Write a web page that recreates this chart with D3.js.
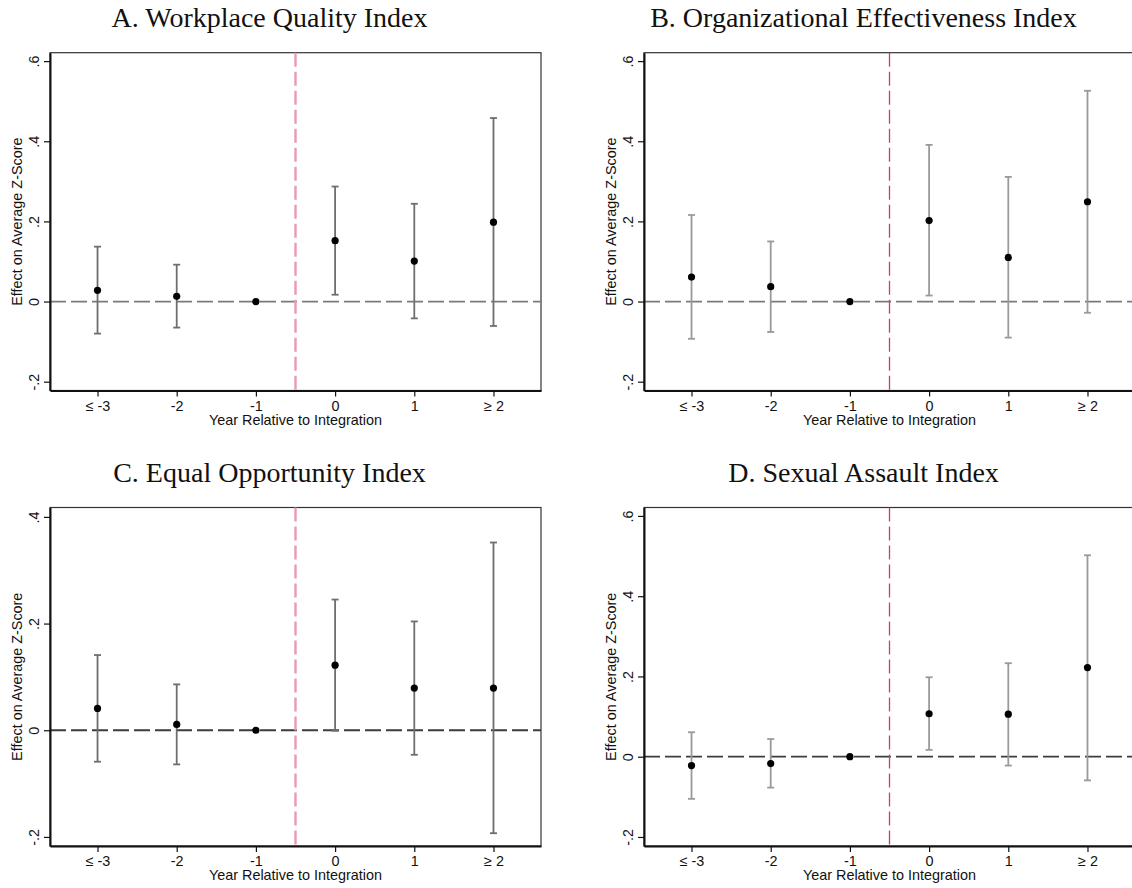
<!DOCTYPE html>
<html>
<head>
<meta charset="utf-8">
<script src="https://cdn.jsdelivr.net/npm/d3@7"></script>
<style>
  html, body { margin: 0; padding: 0; background: #fff; }
  svg { display: block; }
</style>
</head>
<body>
<svg id="chart" width="1132" height="888"></svg>
<script>
// Event-time categories (years relative to integration)
const categories = ["≤ -3", "-2", "-1", "0", "1", "≥ 2"];

// Panel titles
const panelTitles = [
  "A. Workplace Quality Index",
  "B. Organizational Effectiveness Index",
  "C. Equal Opportunity Index",
  "D. Sexual Assault Index"
];

// Point estimates and 95% confidence bounds (year -1 is the omitted reference)
const estA  = [0.028, 0.013, 0, 0.152, 0.101, 0.198];
const lowA  = [-0.080, -0.065, null, 0.017, -0.042, -0.061];
const highA = [0.137, 0.092, null, 0.287, 0.244, 0.458];

const estB  = [0.061, 0.037, 0, 0.202, 0.110, 0.249];
const lowB  = [-0.093, -0.076, null, 0.015, -0.090, -0.028];
const highB = [0.216, 0.150, null, 0.391, 0.311, 0.526];

const estC  = [0.041, 0.011, 0, 0.122, 0.079, 0.079];
const lowC  = [-0.059, -0.064, null, -0.001, -0.046, -0.193];
const highC = [0.141, 0.086, null, 0.245, 0.204, 0.352];

const estD  = [-0.022, -0.017, 0, 0.107, 0.106, 0.222];
const lowD  = [-0.105, -0.077, null, 0.017, -0.022, -0.059];
const highD = [0.061, 0.044, null, 0.198, 0.233, 0.502];

// Y-axis tick values per panel
const yTicksWide   = [-0.2, 0, 0.2, 0.4, 0.6];
const yTicksNarrow = [-0.2, 0, 0.2, 0.4];

const yTitle = "Effect on Average Z-Score";
const xTitle = "Year Relative to Integration";
const eventLine = -0.5; // boundary between year -1 and year 0

// Stata-style tick labels: ".6", "-.2", "0"
function stataFmt(v) {
  if (Math.abs(v) < 1e-9) return "0";
  return String(+v.toFixed(1)).replace("0.", ".");
}

const panels = [
  { title: panelTitles[0], est: estA, low: lowA, high: highA, ticks: yTicksWide,
    yDomain: [-0.222, 0.621], x0: 50,  x1: 541,  y0: 52.7,  y1: 390.5,
    vColor: "#e99ab0", vWidth: 2.4, barColor: "#6e6e6e", zeroColor: "#7a7a7a" },
  { title: panelTitles[1], est: estB, low: lowB, high: highB, ticks: yTicksWide,
    yDomain: [-0.222, 0.621], x0: 644, x1: 1135, y0: 52.7,  y1: 390.5,
    vColor: "#d23c64", vWidth: 1.3, barColor: "#9a9a9a", zeroColor: "#7a7a7a" },
  { title: panelTitles[2], est: estC, low: lowC, high: highC, ticks: yTicksNarrow,
    yDomain: [-0.217, 0.4176], x0: 50,  x1: 541,  y0: 507.5, y1: 846,
    vColor: "#e99ab0", vWidth: 2.4, barColor: "#6e6e6e", zeroColor: "#3c3c3c" },
  { title: panelTitles[3], est: estD, low: lowD, high: highD, ticks: yTicksWide,
    yDomain: [-0.2225, 0.621], x0: 644, x1: 1135, y0: 507.5, y1: 846,
    vColor: "#d23c64", vWidth: 1.3, barColor: "#9a9a9a", zeroColor: "#3c3c3c" }
];

const svg = d3.select("#chart");
const SANS = "'Liberation Sans', Arial, sans-serif";
const SERIF = "'Liberation Serif', 'Times New Roman', serif";
const LABEL_SIZE = 14.4;

panels.forEach(p => {
  const g = svg.append("g");

  // Category positions 0..5 with padding on both sides
  const x = d3.scaleLinear().domain([-0.6, 5.6]).range([p.x0, p.x1]);
  const y = d3.scaleLinear().domain(p.yDomain).range([p.y1, p.y0]);
  const catIdx = d3.scaleOrdinal().domain(categories).range(d3.range(categories.length));

  // Panel title, centred over the panel including its y-axis area
  g.append("text")
    .attr("x", (p.x0 - 50 + p.x1) / 2 - 1)
    .attr("y", p.y0 - 26)
    .attr("text-anchor", "middle")
    .attr("font-family", SERIF)
    .attr("font-size", 28)
    .attr("fill", "#111")
    .text(p.title);

  // Plot region outline
  g.append("rect")
    .attr("x", p.x0).attr("y", p.y0)
    .attr("width", p.x1 - p.x0).attr("height", p.y1 - p.y0)
    .attr("fill", "none").attr("stroke", "#333").attr("stroke-width", 1.2);

  // Reference lines: zero effect and integration onset
  g.append("line")
    .attr("x1", p.x0).attr("x2", p.x1)
    .attr("y1", y(0)).attr("y2", y(0))
    .attr("stroke", p.zeroColor).attr("stroke-width", 1.8)
    .attr("stroke-dasharray", "16,5");

  const vx = x(catIdx("-1") + (eventLine + 1));
  g.append("line")
    .attr("x1", vx).attr("x2", vx)
    .attr("y1", p.y0).attr("y2", p.y1)
    .attr("stroke", p.vColor).attr("stroke-width", p.vWidth)
    .attr("stroke-dasharray", "14,5");

  const rows = categories.map((c, i) => ({ c, est: p.est[i], lo: p.low[i], hi: p.high[i] }));
  const withCI = rows.filter(d => d.lo !== null && d.hi !== null);

  // Confidence interval spikes with caps
  const cap = 3.5;
  const ci = g.append("g").attr("stroke", p.barColor).attr("stroke-width", 1.8);
  ci.selectAll("line.spike").data(withCI).join("line")
    .attr("class", "spike")
    .attr("x1", d => x(catIdx(d.c))).attr("x2", d => x(catIdx(d.c)))
    .attr("y1", d => y(d.lo)).attr("y2", d => y(d.hi));
  ci.selectAll("line.capHi").data(withCI).join("line")
    .attr("class", "capHi")
    .attr("x1", d => x(catIdx(d.c)) - cap).attr("x2", d => x(catIdx(d.c)) + cap)
    .attr("y1", d => y(d.hi)).attr("y2", d => y(d.hi));
  ci.selectAll("line.capLo").data(withCI).join("line")
    .attr("class", "capLo")
    .attr("x1", d => x(catIdx(d.c)) - cap).attr("x2", d => x(catIdx(d.c)) + cap)
    .attr("y1", d => y(d.lo)).attr("y2", d => y(d.lo));

  // Point estimates
  g.selectAll("circle").data(rows).join("circle")
    .attr("cx", d => x(catIdx(d.c)))
    .attr("cy", d => y(d.est))
    .attr("r", 3.6)
    .attr("fill", "#000");

  // Bottom axis
  const xAxis = d3.axisBottom(x)
    .tickValues(d3.range(categories.length))
    .tickFormat(i => categories[i])
    .tickSize(6).tickSizeOuter(0).tickPadding(4);
  const gx = g.append("g").attr("transform", `translate(0,${p.y1})`).call(xAxis);
  gx.select(".domain").attr("stroke", "#111").attr("stroke-width", 2);
  gx.selectAll(".tick line").attr("stroke", "#111").attr("stroke-width", 1.2);
  gx.selectAll(".tick text").attr("font-family", SANS).attr("font-size", LABEL_SIZE).attr("fill", "#111");

  // Left axis with tick labels turned to read upward
  const yAxis = d3.axisLeft(y)
    .tickValues(p.ticks)
    .tickFormat(stataFmt)
    .tickSize(6).tickSizeOuter(0);
  const gy = g.append("g").attr("transform", `translate(${p.x0},0)`).call(yAxis);
  gy.select(".domain").attr("stroke", "#111").attr("stroke-width", 2);
  gy.selectAll(".tick line").attr("stroke", "#111").attr("stroke-width", 1.2);
  gy.selectAll(".tick text")
    .attr("font-family", SANS).attr("font-size", LABEL_SIZE).attr("fill", "#111")
    .attr("text-anchor", "middle")
    .attr("x", 0).attr("y", 0).attr("dy", null)
    .attr("transform", "translate(-11,0) rotate(-90)");

  // Axis titles
  g.append("text")
    .attr("transform", `translate(${p.x0 - 28},${(p.y0 + p.y1) / 2}) rotate(-90)`)
    .attr("text-anchor", "middle")
    .attr("font-family", SANS).attr("font-size", LABEL_SIZE).attr("fill", "#111")
    .text(yTitle);

  g.append("text")
    .attr("x", (p.x0 + p.x1) / 2)
    .attr("y", p.y1 + 34)
    .attr("text-anchor", "middle")
    .attr("font-family", SANS).attr("font-size", LABEL_SIZE).attr("fill", "#111")
    .text(xTitle);
});
</script>
</body>
</html>
